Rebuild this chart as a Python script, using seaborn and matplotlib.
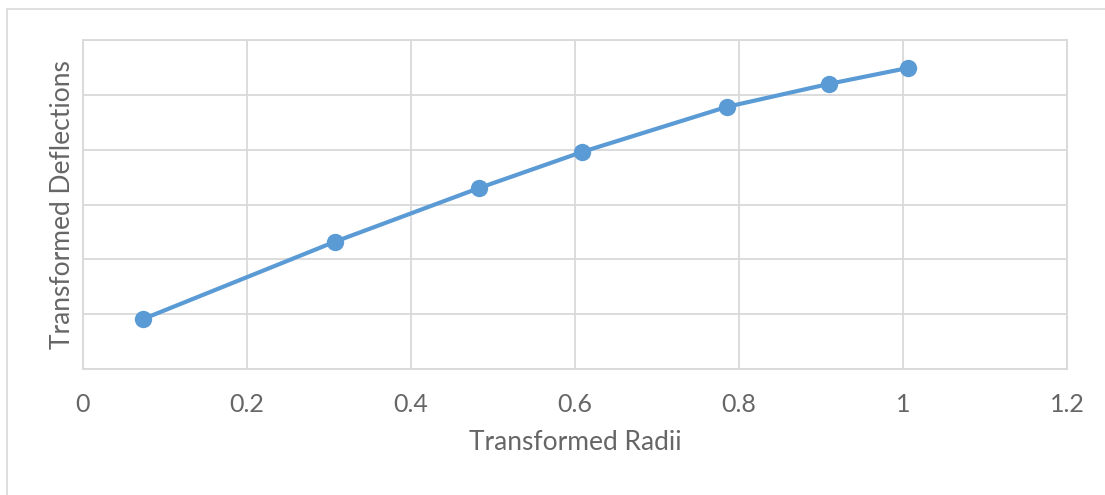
import matplotlib
matplotlib.use("Agg")
import matplotlib.pyplot as plt
import seaborn as sns
import pandas as pd
from matplotlib.patches import Rectangle

radii = [0.073, 0.307, 0.483, 0.609, 0.785, 0.910, 1.006]
deflections = [0.091, 0.232, 0.330, 0.396, 0.478, 0.520, 0.549]
x_ticks = [0, 0.2, 0.4, 0.6, 0.8, 1.0, 1.2]
x_tick_labels = ["0", "0.2", "0.4", "0.6", "0.8", "1", "1.2"]
y_ticks = [0, 0.1, 0.2, 0.3, 0.4, 0.5, 0.6]

sns.set_theme(style="white")
plt.rcParams['font.family'] = ['Lato', 'DejaVu Sans']

df = pd.DataFrame({"r": radii, "d": deflections})

fig = plt.figure(figsize=(11.05, 4.95), dpi=100)
ax = fig.add_axes([83/1105, 1-369/495, (1067-83)/1105, (369-40)/495])

grid_c = "#D9D9D9"
text_c = "#666666"
blue = "#5B9BD5"

sns.lineplot(data=df, x="r", y="d", ax=ax, color=blue, linewidth=3,
             marker="o", markersize=12.5, markeredgewidth=0, sort=False, zorder=3)

ax.set_xlim(0, 1.2)
ax.set_ylim(0, 0.6)
ax.set_xticks(x_ticks)
ax.set_xticklabels(x_tick_labels)
ax.set_yticks(y_ticks)
ax.set_yticklabels([])
ax.grid(True, color=grid_c, linewidth=1.3)
ax.set_axisbelow(True)
for s in ax.spines.values():
    s.set_visible(True)
    s.set_color(grid_c)
    s.set_linewidth(1.3)
ax.tick_params(axis="x", length=0, pad=17, labelsize=18, labelcolor=text_c)
ax.tick_params(axis="y", length=0, pad=0)
ax.set_xlabel("Transformed Radii", fontsize=19, color=text_c, labelpad=10)
ax.set_ylabel("Transformed Deflections", fontsize=19, color=text_c, labelpad=6)

fig.patches.append(Rectangle((7/1105, -0.1), 1.2, 1 - 9/495 + 0.1, transform=fig.transFigure,
                             fill=False, edgecolor="#D9D9D9", linewidth=1.2, zorder=0))

fig.savefig("out.png", dpi=100)
